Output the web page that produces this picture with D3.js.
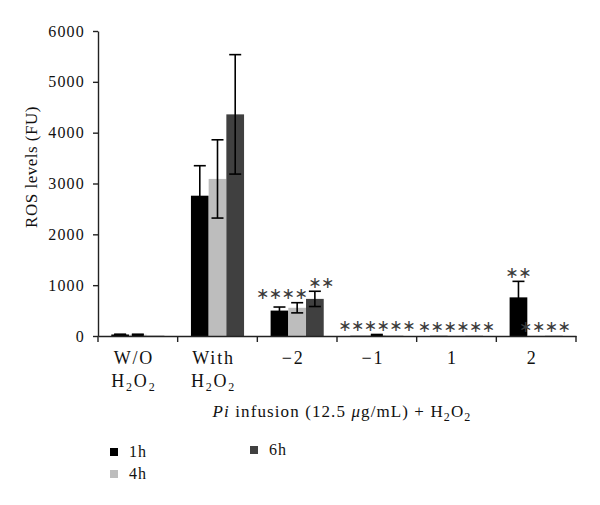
<!DOCTYPE html>
<html>
<head>
<meta charset="utf-8">
<script src="https://cdn.jsdelivr.net/npm/d3@7"></script>
<style>
  body { margin: 0; background: #fff; }
  svg { font-family: "Liberation Serif", "DejaVu Serif", serif; }
</style>
</head>
<body>
<div id="chart"></div>
<script>
// categories and series
const categories = ['wo', 'with', '-2', '-1', '1', '2'];
const series = ['1h', '4h', '6h'];
const seriesColors = ['#000000', '#bdbdbd', '#404040'];

// mean values per series, one entry per category
const values1h = [30, 2760, 500, 5, 5, 760];
const values4h = [25, 3090, 555, 20, 5, 5];
const values6h = [5, 4360, 730, 5, 5, 5];

// error (SD) per series
const errors1h = [5, 590, 70, 0, 0, 315];
const errors4h = [10, 770, 100, 10, 0, 0];
const errors6h = [0, 1175, 150, 0, 0, 0];

// significance marks per series
const stars1h = ['', '', '**', '**', '**', '**'];
const stars4h = ['', '', '**', '**', '**', '**'];
const stars6h = ['', '', '**', '**', '**', '**'];

const yTicks = [0, 1000, 2000, 3000, 4000, 5000, 6000];

const largura = 600, altura = 505;
const margem = { topo: 31, direita: 24, baixo: 169, esquerda: 98 };

const svg = d3.select('#chart').append('svg')
  .attr('width', largura)
  .attr('height', altura);

const x0 = d3.scaleBand()
  .domain(categories)
  .range([margem.esquerda, largura - margem.direita])
  .paddingInner(0).paddingOuter(0);

const x1 = d3.scaleBand()
  .domain(series)
  .range([0, x0.bandwidth()])
  .paddingInner(0).paddingOuter(0.75);

const y = d3.scaleLinear()
  .domain([0, 6000])
  .range([altura - margem.baixo, margem.topo]);

const allValues = [values1h, values4h, values6h];
const allErrors = [errors1h, errors4h, errors6h];
const allStars = [stars1h, stars4h, stars6h];

const rows = [];
series.forEach((s, si) => {
  categories.forEach((c, ci) => {
    rows.push({ cat: c, serie: s, si: si,
      value: allValues[si][ci], err: allErrors[si][ci], stars: allStars[si][ci] });
  });
});

// bars
svg.append('g').selectAll('rect')
  .data(rows)
  .join('rect')
  .attr('x', d => x0(d.cat) + x1(d.serie))
  .attr('y', d => y(d.value))
  .attr('width', x1.bandwidth())
  .attr('height', d => y(0) - y(d.value))
  .attr('fill', d => seriesColors[d.si]);

// error bars
const capW = 6;
const eb = svg.append('g').attr('stroke', '#000').attr('stroke-width', 1.6);
rows.filter(d => d.err > 0).forEach(d => {
  const cx = x0(d.cat) + x1(d.serie) + x1.bandwidth() / 2;
  const yt = y(d.value + d.err), yb = y(Math.max(0, d.value - d.err));
  eb.append('line').attr('x1', cx).attr('x2', cx).attr('y1', yt).attr('y2', yb);
  eb.append('line').attr('x1', cx - capW).attr('x2', cx + capW).attr('y1', yt).attr('y2', yt);
  eb.append('line').attr('x1', cx - capW).attr('x2', cx + capW).attr('y1', yb).attr('y2', yb);
});

// asterisks: neighbouring bars at about the same height share one text,
// evenly spread around the centre of those bars
const estrelas = svg.append('g')
  .attr('font-family', 'DejaVu Sans')
  .attr('font-size', 16)
  .attr('fill', '#3a3a3a')
  .attr('text-anchor', 'middle');
const passo = 12.8;
categories.forEach(c => {
  const marcados = rows.filter(d => d.cat === c && d.stars)
    .map(d => ({ d: d, cx: x0(d.cat) + x1(d.serie) + x1.bandwidth() / 2, top: y(d.value + d.err) }));
  const grupos = [];
  marcados.forEach(m => {
    const ult = grupos[grupos.length - 1];
    if (ult && Math.abs(ult[ult.length - 1].top - m.top) < 6) ult.push(m);
    else grupos.push([m]);
  });
  const runs = grupos.map(g => {
    const texto = g.map(m => m.d.stars).join('');
    return { texto: texto, centro: d3.mean(g, m => m.cx),
      meia: texto.length * passo / 2, topo: d3.min(g, m => m.top) };
  });
  // push apart runs that would collide at nearly the same height
  for (let i = 1; i < runs.length; i++) {
    const a = runs[i - 1], b = runs[i];
    const ov = (a.centro + a.meia + 1) - (b.centro - b.meia);
    if (Math.abs(a.topo - b.topo) < 16 && ov > 0) {
      a.centro -= ov / 2;
      b.centro += ov / 2;
    }
  }
  runs.forEach(r => {
    const n = r.texto.length;
    const xs = d3.range(n).map(k => r.centro + (k - (n - 1) / 2) * passo);
    estrelas.append('text')
      .attr('x', xs.join(' '))
      .attr('y', r.topo - 3.5)
      .text(r.texto.replace(/\*/g, '\u2217'));
  });
});

// y axis
const eixoY = svg.append('g')
  .attr('transform', `translate(${margem.esquerda},0)`)
  .call(d3.axisLeft(y).tickValues(yTicks).tickFormat(d3.format('d'))
    .tickSize(5).tickSizeOuter(0).tickPadding(8));
eixoY.selectAll('text').attr('font-size', 16).attr('letter-spacing', 1.2)
  .attr('font-family', 'Liberation Serif').attr('fill', '#111');
eixoY.selectAll('line, path').attr('stroke', '#222').attr('stroke-width', 1.4);

// x axis
const eixoX = svg.append('g')
  .attr('transform', `translate(0,${y(0)})`)
  .call(d3.axisBottom(x0).tickSize(0).tickSizeOuter(0).tickPadding(22));
eixoX.select('.domain').attr('stroke', '#222').attr('stroke-width', 1.4);
const bounds = categories.map(c => x0(c)).concat([x0.range()[1]]);
eixoX.selectAll('.bound').data(bounds).join('line')
  .attr('class', 'bound')
  .attr('x1', d => d).attr('x2', d => d)
  .attr('y1', 0).attr('y2', 6)
  .attr('stroke', '#222').attr('stroke-width', 1.4);

const tickLines = {
  'wo': [['W/O'], ['H', ['2'], 'O', ['2']]],
  'with': [['With'], ['H', ['2'], 'O', ['2']]],
  '-2': [['\u22122']], '-1': [['\u22121']], '1': [['1']], '2': [['2']]
};
eixoX.selectAll('.tick text').each(function(d) {
  const t = d3.select(this).text(null)
    .attr('font-size', 18).attr('letter-spacing', 1.8)
    .attr('font-family', 'Liberation Serif').attr('fill', '#111')
    .attr('y', 28).attr('dy', 0);
  tickLines[d].forEach((line, li) => {
    line.forEach((part, pi) => {
      const sp = t.append('tspan');
      if (pi === 0) sp.attr('x', -4).attr('y', 28 + li * 23);
      if (Array.isArray(part)) {
        sp.text(part[0]).attr('font-size', 12).attr('dy', 4);
      } else {
        sp.text(part);
        if (pi > 0) sp.attr('dy', -4);
      }
    });
  });
});

// y axis title
svg.append('text')
  .attr('transform', 'translate(37,167) rotate(-90)')
  .attr('text-anchor', 'middle')
  .attr('font-size', 17)
  .attr('letter-spacing', 0.5)
  .attr('fill', '#111')
  .text('ROS levels (FU)');

// x axis title
const tituloX = svg.append('text')
  .attr('x', 342).attr('y', 417)
  .attr('text-anchor', 'middle')
  .attr('font-size', 17)
  .attr('letter-spacing', 1.1)
  .attr('fill', '#111');
tituloX.append('tspan').attr('font-style', 'italic').text('Pi');
tituloX.append('tspan').text(' infusion (12.5 ');
tituloX.append('tspan').attr('font-style', 'italic').text('\u03bc');
tituloX.append('tspan').text('g/mL) + H');
tituloX.append('tspan').attr('font-size', 12).attr('dy', 4).text('2');
tituloX.append('tspan').attr('dy', -4).text('O');
tituloX.append('tspan').attr('font-size', 12).attr('dy', 4).text('2');

// legend
const legendPos = [[110, 448], [110, 470], [250, 446]];
const legenda = svg.append('g');
series.forEach((s, i) => {
  const [lx, ly] = legendPos[i];
  legenda.append('rect').attr('x', lx).attr('y', ly).attr('width', 8).attr('height', 8)
    .attr('fill', seriesColors[i]);
  legenda.append('text').attr('x', lx + 19).attr('y', ly + 9)
    .attr('font-size', 16).attr('letter-spacing', 1).attr('fill', '#111').text(s);
});
</script>
</body>
</html>
